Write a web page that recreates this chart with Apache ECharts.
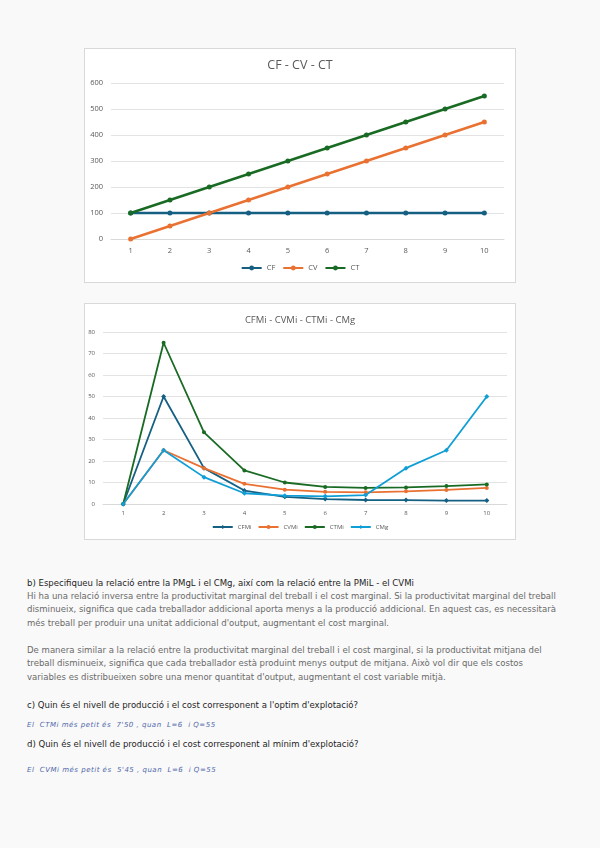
<!DOCTYPE html>
<html>
<head>
<meta charset="utf-8">
<script src="https://cdn.jsdelivr.net/npm/echarts@6/dist/echarts.min.js"></script>
<style>
  html, body { margin:0; padding:0; }
  body { width:600px; height:848px; background:#f9f9f9; position:relative; overflow:hidden; font-family:"Noto Sans", sans-serif; }
  .box { position:absolute; background:#fff; border:1px solid #d9d9d9; box-sizing:border-box; }
  .t { position:absolute; left:27px; white-space:nowrap; font-family:"DejaVu Sans Condensed","Noto Sans",sans-serif; font-size:9.5px; line-height:13.3px; }
  .q { color:#1e1e1e; }
  .a { color:#6a6a6a; }
  .h { color:#4f67a8; font-family:"DejaVu Sans", sans-serif; font-size:7px; font-style:italic; letter-spacing:0.5px; }
</style>
</head>
<body>
<div id="c1" class="box" style="left:84px;top:48px;width:432px;height:235px;"></div>
<div id="c2" class="box" style="left:84px;top:303px;width:432px;height:237px;"></div>

<div class="t q" style="top:576px;">b) Especifiqueu la relació entre la PMgL i el CMg, així com la relació entre la PMiL - el CVMi</div>
<div class="t a" style="top:589px;">Hi ha una relació inversa entre la productivitat marginal del treball i el cost marginal. Si la productivitat marginal del treball<br>disminueix, significa que cada treballador addicional aporta menys a la producció addicional. En aquest cas, es necessitarà<br>més treball per produir una unitat addicional d'output, augmentant el cost marginal.</div>
<div class="t a" style="top:643px;">De manera similar a la relació entre la productivitat marginal del treball i el cost marginal, si la productivitat mitjana del<br>treball disminueix, significa que cada treballador està produint menys output de mitjana. Això vol dir que els costos<br>variables es distribueixen sobre una menor quantitat d'output, augmentant el cost variable mitjà.</div>
<div class="t q" style="top:698px;">c) Quin és el nivell de producció i el cost corresponent a l'optim d'explotació?</div>
<div class="t h" style="top:719px;">El &nbsp;CTMi més petit és &nbsp;7'50 , quan &nbsp;L=6 &nbsp;i Q=55</div>
<div class="t q" style="top:737px;">d) Quin és el nivell de producció i el cost corresponent al mínim d'explotació?</div>
<div class="t h" style="top:764px;">El &nbsp;CVMi més petit és &nbsp;5'45 , quan &nbsp;L=6 &nbsp;i Q=55</div>

<script>
const categories = ['1','2','3','4','5','6','7','8','9','10'];
const CF  = [100,100,100,100,100,100,100,100,100,100];
const CV  = [0,50,100,150,200,250,300,350,400,450];
const CT  = [100,150,200,250,300,350,400,450,500,550];

const CFMi = [0,50,16.67,6.25,3.33,2.27,1.85,1.82,1.59,1.61];
const CVMi = [0,25,16.67,9.38,6.67,5.68,5.45,5.91,6.55,7.5];
const CTMi = [0,75,33.33,15.63,10,7.95,7.5,7.73,8.33,9.11];
const CMg  = [0,25,12.5,5,3.85,3.57,4.17,16.67,25,50];

const C_BLUE='#156082', C_OR='#E97132', C_GR='#196B24', C_LB='#0F9ED5';
const FONT='"Open Sans", "Noto Sans", sans-serif';

function mkSeries(name, data, color, symbol, size, width){
  return {name, type:'line', data, color, symbol, symbolSize:size,
    lineStyle:{width, color}, itemStyle:{color}, emphasis:{disabled:true}, animation:false};
}

const c1 = echarts.init(document.getElementById('c1'), null, {renderer:'canvas'});
c1.setOption({
  animation:false,
  title:{text:'CF - CV - CT', left:'center', top:5, textStyle:{fontFamily:FONT, fontSize:12.5, fontWeight:'normal', color:'#595959'}},
  grid:{left:26, right:11, top:34, bottom:43},
  legend:{bottom:5, itemWidth:20, itemHeight:6, itemGap:7, textStyle:{fontFamily:FONT, fontSize:7.5, color:'#595959'},
    data:['CF','CV','CT']},
  xAxis:{type:'category', data:categories, boundaryGap:true,
    axisLine:{lineStyle:{color:'#d9d9d9'}}, axisTick:{show:false},
    axisLabel:{fontFamily:FONT, fontSize:7.5, color:'#595959', margin:8}},
  yAxis:{type:'value', min:0, max:600, interval:100,
    axisLine:{show:false}, axisTick:{show:false},
    axisLabel:{fontFamily:FONT, fontSize:7.5, color:'#595959', margin:8},
    splitLine:{lineStyle:{color:'#e3e3e3'}}},
  series:[
    mkSeries('CF', CF, C_BLUE, 'circle', 5, 2.5),
    mkSeries('CV', CV, C_OR, 'circle', 5, 2.5),
    mkSeries('CT', CT, C_GR, 'circle', 5, 2.5)
  ]
});

const c2 = echarts.init(document.getElementById('c2'), null, {renderer:'canvas'});
c2.setOption({
  animation:false,
  title:{text:'CFMi - CVMi - CTMi - CMg', left:'center', top:6, textStyle:{fontFamily:FONT, fontSize:9.5, fontWeight:'normal', color:'#595959'}},
  grid:{left:18, right:8, top:28, bottom:35},
  legend:{bottom:4, itemWidth:20, itemHeight:5, itemGap:6, textStyle:{fontFamily:FONT, fontSize:6, color:'#595959'},
    data:['CFMi','CVMi','CTMi','CMg']},
  xAxis:{type:'category', data:categories, boundaryGap:true,
    axisLine:{lineStyle:{color:'#d9d9d9'}}, axisTick:{show:false},
    axisLabel:{fontFamily:FONT, fontSize:6, color:'#595959', margin:6}},
  yAxis:{type:'value', min:0, max:80, interval:10,
    axisLine:{show:false}, axisTick:{show:false},
    axisLabel:{fontFamily:FONT, fontSize:6, color:'#595959', margin:8},
    splitLine:{lineStyle:{color:'#e3e3e3'}}},
  series:[
    mkSeries('CFMi', CFMi, C_BLUE, 'diamond', 5, 1.8),
    mkSeries('CVMi', CVMi, C_OR, 'circle', 4, 1.8),
    mkSeries('CTMi', CTMi, C_GR, 'circle', 4, 1.8),
    mkSeries('CMg', CMg, C_LB, 'diamond', 5, 1.8)
  ]
});
</script>
</body>
</html>
